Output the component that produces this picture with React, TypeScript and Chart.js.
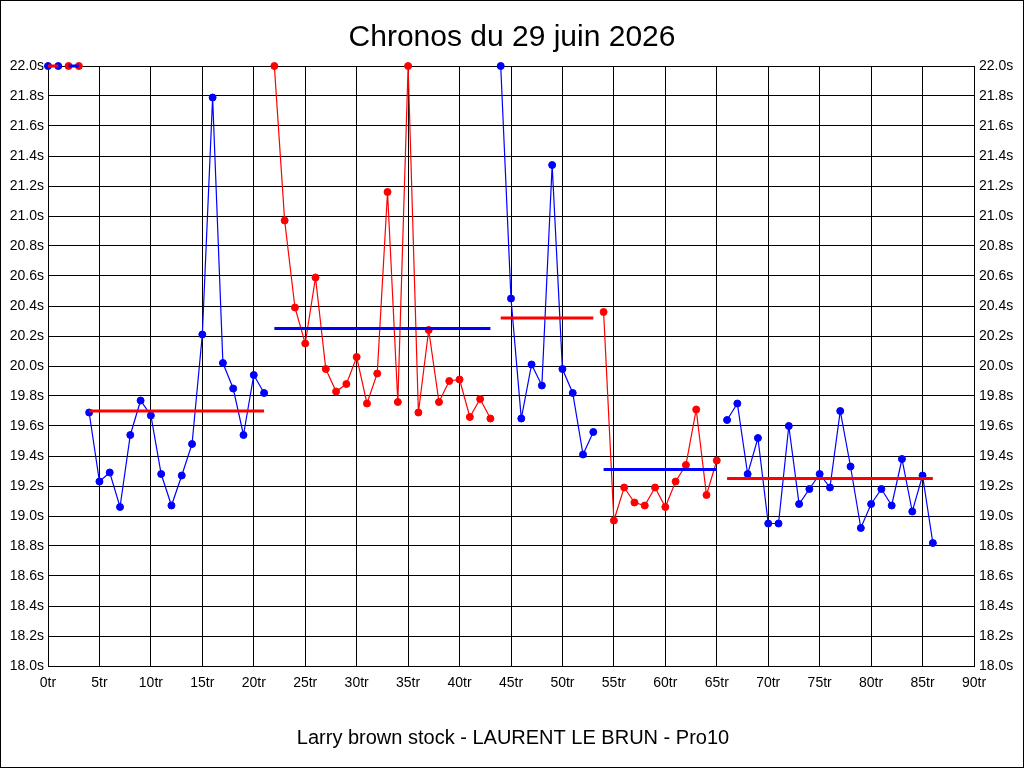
import React, { useEffect, useRef } from "react";
import { Chart, registerables } from "chart.js";

Chart.register(...registerables);

const titleText = "Chronos du 29 juin 2026";
const xAxisTitle = "Larry brown stock - LAURENT LE BRUN - Pro10";

// lap times, index = lap number (0..86)
const lapTimes = [
  22.0, 22.0, 22.0, 22.0,
  19.69, 19.23, 19.29, 19.06, 19.54, 19.77, 19.67, 19.28, 19.07, 19.27, 19.48, 20.21, 21.79, 20.02, 19.85, 19.54, 19.94, 19.82,
  22.0, 20.97, 20.39, 20.15, 20.59, 19.98, 19.83, 19.88, 20.06, 19.75, 19.95, 21.16, 19.76, 22.0, 19.69, 20.24, 19.76, 19.9, 19.91, 19.66, 19.78, 19.65,
  22.0, 20.45, 19.65, 20.01, 19.87, 21.34, 19.98, 19.82, 19.41, 19.56,
  20.36, 18.97, 19.19, 19.09, 19.07, 19.19, 19.06, 19.23, 19.34, 19.71, 19.14, 19.37,
  19.64, 19.75, 19.28, 19.52, 18.95, 18.95, 19.6, 19.08, 19.18, 19.28, 19.19, 19.7, 19.33, 18.92, 19.08, 19.18, 19.07, 19.38, 19.03, 19.27, 18.82,
];

// stints (first lap, last lap) and their mean time
const stintStarts = [0, 2, 4, 22, 44, 54, 66];
const stintEnds = [1, 3, 21, 43, 53, 65, 86];
const stintMeans = [22.0, 22.0, 19.7, 20.25, 20.32, 19.31, 19.25];

const xMin = 0;
const xMax = 90;
const xStep = 5;
const yMin = 18.0;
const yMax = 22.0;
const yStep = 0.2;

const BLUE = "#0000FF";
const RED = "#FF0000";
const FONT = "'Liberation Sans', Arial, sans-serif";

export default function App() {
  const ref = useRef<HTMLCanvasElement | null>(null);

  useEffect(() => {
    if (!ref.current) return;
    document.body.style.margin = "0";

    const meanSets: any[] = [];
    const lapSets: any[] = [];
    stintStarts.forEach((s, i) => {
      const e = stintEnds[i];
      const pointColor = i % 2 === 0 ? BLUE : RED;
      const meanColor = i % 2 === 0 ? RED : BLUE;
      const pts = [];
      for (let k = s; k <= e; k++) pts.push({ x: k, y: lapTimes[k] });
      lapSets.push({
        data: pts,
        borderColor: pointColor,
        backgroundColor: pointColor,
        pointBackgroundColor: pointColor,
        pointBorderColor: pointColor,
        borderWidth: 1.2,
        pointRadius: 3.5,
        pointBorderWidth: 1,
        tension: 0,
        clip: false,
        yAxisID: "y",
      });
      meanSets.push({
        data: [
          { x: s, y: stintMeans[i] },
          { x: e, y: stintMeans[i] },
        ],
        borderColor: meanColor,
        backgroundColor: meanColor,
        borderWidth: 3,
        pointRadius: 0,
        tension: 0,
        clip: false,
        yAxisID: "y",
      });
    });

    const textPlugin = {
      id: "texts",
      afterDraw(chart: any) {
        const ctx = chart.ctx;
        ctx.save();
        ctx.fillStyle = "#000";
        ctx.textAlign = "center";
        ctx.textBaseline = "alphabetic";
        ctx.font = `30px ${FONT}`;
        ctx.fillText(titleText, 512, 46);
        ctx.font = `20px ${FONT}`;
        ctx.fillText(xAxisTitle, 513, 744);
        ctx.strokeStyle = "#000";
        ctx.lineWidth = 1;
        ctx.strokeRect(0.5, 0.5, 1023, 767);
        ctx.restore();
      },
    };

    const tickFont = { family: FONT, size: 14 };

    const chart = new Chart(ref.current, {
      type: "line",
      data: { datasets: [...meanSets, ...lapSets] },
      options: {
        animation: false,
        responsive: false,
        devicePixelRatio: 1,
        layout: { padding: { top: 66, left: 0, right: 0, bottom: 0 } },
        plugins: {
          legend: { display: false },
          title: { display: false },
          tooltip: { enabled: false },
        },
        scales: {
          x: {
            type: "linear",
            min: xMin,
            max: xMax,
            afterFit(scale: any) {
              scale.height = 102;
            },
            ticks: {
              stepSize: xStep,
              color: "#000",
              font: tickFont,
              padding: 9,
              maxRotation: 0,
              autoSkip: false,
              callback: (v: any) => `${v}tr`,
            },
            grid: { color: "#000", lineWidth: 1, drawTicks: false },
            border: { display: true, color: "#000", width: 1 },
          },
          y: {
            type: "linear",
            position: "left",
            min: yMin,
            max: yMax,
            afterFit(scale: any) {
              scale.width = 48;
            },
            ticks: {
              stepSize: yStep,
              color: "#000",
              font: tickFont,
              padding: 4,
              autoSkip: false,
              callback: (v: any) => `${Number(v).toFixed(1)}s`,
            },
            grid: { color: "#000", lineWidth: 1, drawTicks: false },
            border: { display: true, color: "#000", width: 1 },
          },
          y2: {
            type: "linear",
            position: "right",
            min: yMin,
            max: yMax,
            afterFit(scale: any) {
              scale.width = 50;
            },
            ticks: {
              stepSize: yStep,
              color: "#000",
              font: tickFont,
              padding: 5,
              autoSkip: false,
              callback: (v: any) => `${Number(v).toFixed(1)}s`,
            },
            grid: { display: false, drawTicks: false },
            border: { display: true, color: "#000", width: 1 },
          },
        },
      },
      plugins: [textPlugin],
    } as any);

    return () => chart.destroy();
  }, []);

  return (
    <div style={{ position: "absolute", left: 0, top: 0, width: 1024, height: 768, background: "#fff" }}>
      <canvas ref={ref} width={1024} height={768} style={{ display: "block", width: 1024, height: 768 }} />
    </div>
  );
}
